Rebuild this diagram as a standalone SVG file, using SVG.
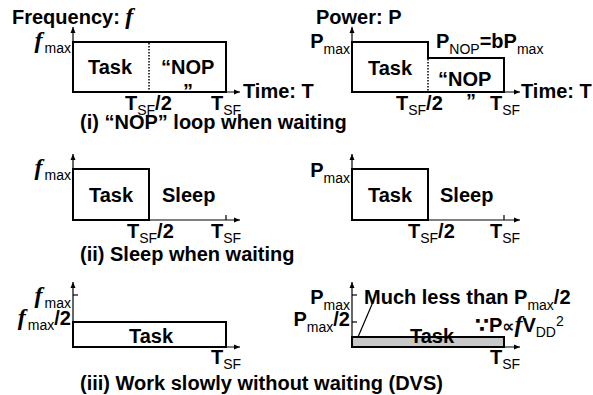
<svg xmlns="http://www.w3.org/2000/svg" width="593" height="395" viewBox="0 0 593 395">
<style>
text{font-family:"Liberation Sans",Arial,sans-serif;font-weight:bold;font-size:20px;fill:#000}
.sub{font-size:14px;font-weight:normal}
.fi{font-family:"Liberation Serif","Times New Roman",serif;font-style:italic;font-weight:bold;font-size:24px}
.sym{font-family:"DejaVu Sans",sans-serif}
.ax{stroke:#000;stroke-width:1.2;fill:none}
.bx{stroke:#000;stroke-width:2;fill:none}
.dot{stroke:#000;stroke-width:1.5;stroke-dasharray:1.5 1.5;fill:none}
.tk{stroke:#000;stroke-width:1.2}
</style>
<defs>
<marker id="arr" markerUnits="userSpaceOnUse" markerWidth="7" markerHeight="6" refX="6" refY="3" orient="auto">
<path d="M0,0.5 L6,3 L0,5.5 z" fill="#000"/>
</marker>
</defs>
<rect width="593" height="395" fill="#fff"/>

<g id="chart-i-freq">
<rect class="bx" x="73" y="42" width="153" height="50"/>
<line class="dot" x1="149" y1="43" x2="149" y2="91"/>
<text x="12" y="24">Frequency: <tspan class="fi">f</tspan></text>
<text x="71" y="48" text-anchor="end"><tspan class="fi">f</tspan><tspan class="sub" dx="2" dy="5">max</tspan></text>
<text x="88" y="74">Task</text>
<text x="161" y="74">“NOP</text>
<text x="183" y="98">”</text>
<text x="125" y="110">T<tspan class="sub" dy="5">SF</tspan><tspan dy="-5">/2</tspan></text>
<text x="211" y="110">T<tspan class="sub" dy="5">SF</tspan></text>
<text x="243" y="98">Time: T</text>
</g>

<g id="chart-i-power">
<polygon class="bx" points="352,42 428,42 428,58 504,58 504,92 352,92"/>
<line class="dot" x1="428" y1="59" x2="428" y2="91"/>
<text x="316" y="24">Power: P</text>
<text x="350" y="48" text-anchor="end">P<tspan class="sub" dy="6">max</tspan></text>
<text x="436" y="48">P<tspan class="sub" dy="6">NOP</tspan><tspan dy="-6">=bP</tspan><tspan class="sub" dy="6">max</tspan></text>
<text x="368" y="75">Task</text>
<text x="438" y="86">“NOP</text>
<text x="466" y="108">”</text>
<text x="396" y="110">T<tspan class="sub" dy="5">SF</tspan><tspan dy="-5">/2</tspan></text>
<text x="490" y="110">T<tspan class="sub" dy="5">SF</tspan></text>
<text x="521" y="98">Time: T</text>
</g>

<text id="caption-i" x="80" y="129">(i) “NOP” loop when waiting</text>

<g id="chart-ii-freq">
<rect class="bx" x="73" y="169" width="76" height="51"/>
<line class="tk" x1="226" y1="215" x2="226" y2="220"/>
<text x="71" y="175" text-anchor="end"><tspan class="fi">f</tspan><tspan class="sub" dx="2" dy="5">max</tspan></text>
<text x="89" y="202">Task</text>
<text x="162" y="202">Sleep</text>
<text x="127" y="238">T<tspan class="sub" dy="5">SF</tspan><tspan dy="-5">/2</tspan></text>
<text x="211" y="238">T<tspan class="sub" dy="5">SF</tspan></text>
</g>

<g id="chart-ii-power">
<rect class="bx" x="352" y="169" width="76" height="51"/>
<line class="tk" x1="504" y1="215" x2="504" y2="220"/>
<text x="350" y="177" text-anchor="end">P<tspan class="sub" dy="6">max</tspan></text>
<text x="368" y="202">Task</text>
<text x="440" y="202">Sleep</text>
<text x="408" y="238">T<tspan class="sub" dy="5">SF</tspan><tspan dy="-5">/2</tspan></text>
<text x="490" y="238">T<tspan class="sub" dy="5">SF</tspan></text>
</g>

<text id="caption-ii" x="80" y="261">(ii) Sleep when waiting</text>

<g id="chart-iii-freq">
<rect class="bx" x="73" y="322" width="153" height="25"/>
<line class="tk" x1="73" y1="295" x2="78" y2="295"/>
<text x="71" y="303" text-anchor="end"><tspan class="fi">f</tspan><tspan class="sub" dx="2" dy="5">max</tspan></text>
<text x="71" y="325" text-anchor="end"><tspan class="fi">f</tspan><tspan class="sub" dx="2" dy="5">max</tspan><tspan dy="-5">/2</tspan></text>
<text x="129" y="343">Task</text>
<text x="211" y="364">T<tspan class="sub" dy="5">SF</tspan></text>
</g>

<g id="chart-iii-power">
<rect x="352" y="337" width="152" height="10" fill="#c8c8c8" stroke="#000" stroke-width="2"/>
<line class="tk" x1="352" y1="295" x2="357" y2="295"/>
<line class="tk" x1="352" y1="322" x2="357" y2="322"/>
<line class="ax" x1="373" y1="302" x2="358" y2="337"/>
<text x="350" y="304" text-anchor="end">P<tspan class="sub" dy="6">max</tspan></text>
<text x="350" y="326" text-anchor="end">P<tspan class="sub" dy="6">max</tspan><tspan dy="-6">/2</tspan></text>
<text x="364" y="304">Much less than P<tspan class="sub" dy="6">max</tspan><tspan dy="-6">/2</tspan></text>
<text x="410" y="343">Task</text>
<text x="475" y="332"><tspan class="sym" font-size="20">∵</tspan>P<tspan class="sym" font-size="17">∝</tspan><tspan class="fi">f</tspan>V<tspan class="sub" dy="5">DD</tspan><tspan class="sub" dy="-11">2</tspan></text>
<text x="490" y="364">T<tspan class="sub" dy="5">SF</tspan></text>
</g>

<text id="caption-iii" x="80" y="390">(iii) Work slowly without waiting (DVS)</text>

<g id="connectors">
<line class="ax" x1="73" y1="92" x2="73" y2="27" marker-end="url(#arr)"/>
<line class="ax" x1="73" y1="92" x2="240" y2="92" marker-end="url(#arr)"/>
<line class="ax" x1="352" y1="92" x2="352" y2="27" marker-end="url(#arr)"/>
<line class="ax" x1="352" y1="92" x2="520" y2="92" marker-end="url(#arr)"/>
<line class="ax" x1="73" y1="220" x2="73" y2="154" marker-end="url(#arr)"/>
<line class="ax" x1="73" y1="220" x2="240" y2="220" marker-end="url(#arr)"/>
<line class="ax" x1="352" y1="220" x2="352" y2="154" marker-end="url(#arr)"/>
<line class="ax" x1="352" y1="220" x2="520" y2="220" marker-end="url(#arr)"/>
<line class="ax" x1="73" y1="347" x2="73" y2="282" marker-end="url(#arr)"/>
<line class="ax" x1="73" y1="347" x2="240" y2="347" marker-end="url(#arr)"/>
<line class="ax" x1="352" y1="347" x2="352" y2="282" marker-end="url(#arr)"/>
<line class="ax" x1="352" y1="347" x2="520" y2="347" marker-end="url(#arr)"/>
</g>
</svg>
